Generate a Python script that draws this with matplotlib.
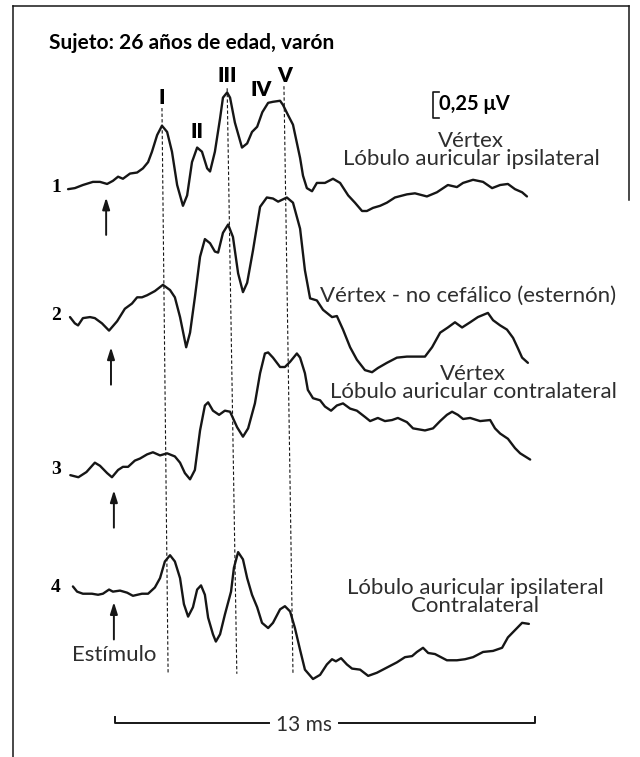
import matplotlib
matplotlib.use("Agg")
import matplotlib.pyplot as plt
from matplotlib.lines import Line2D

W, H = 640, 757
PX_PER_MS = 32.27     # 13 ms scale bar is ~420 px long
PX_PER_UV = 104.0     # 0.25 uV bracket is ~26 px tall
ORIGIN_PX = 115.5     # left end of the 13 ms bar (t = 0)

# waveforms: time (ms) and amplitude (uV, relative to each trace's start level)
trace1_ms = [-1.47, -1.26, -1.01, -0.70, -0.48, -0.26, -0.08, 0.08, 0.23, 0.45, 0.67, 0.85,
             1.01, 1.13, 1.29, 1.44, 1.60, 1.75, 1.91, 2.09, 2.22, 2.37, 2.53, 2.68, 2.84,
             2.93, 3.08, 3.24, 3.33, 3.46, 3.55, 3.70, 3.92, 4.08, 4.23, 4.39, 4.55, 4.73,
             4.88, 5.10, 5.19, 5.35, 5.50, 5.72, 5.81, 5.93, 6.09, 6.24, 6.49, 6.74, 6.96,
             7.21, 7.42, 7.64, 7.79, 7.98, 8.20, 8.41, 8.66, 9.03, 9.28, 9.65, 9.96, 10.30,
             10.58, 10.77, 11.08, 11.39, 11.67, 11.92, 12.16, 12.38, 12.60, 12.75]
trace1_uv = [0.00, 0.01, 0.04, 0.07, 0.07, 0.05, 0.08, 0.12, 0.10, 0.15, 0.16, 0.20,
             0.26, 0.36, 0.52, 0.61, 0.55, 0.36, 0.04, -0.16, -0.06, 0.26, 0.40, 0.36, 0.20,
             0.17, 0.36, 0.68, 0.88, 0.93, 0.88, 0.64, 0.40, 0.44, 0.55, 0.60, 0.74, 0.83,
             0.84, 0.85, 0.81, 0.71, 0.62, 0.30, 0.13, 0.01, -0.02, 0.06, 0.06, 0.10, 0.06,
             -0.06, -0.13, -0.21, -0.21, -0.18, -0.16, -0.13, -0.08, -0.05, -0.04, -0.07, -0.03, 0.04,
             0.02, 0.06, 0.09, 0.07, 0.01, 0.04, 0.05, 0.00, -0.03, -0.07]

trace2_ms = [-1.41, -1.26, -1.16, -1.01, -0.79, -0.64, -0.42, -0.20, 0.05, 0.29, 0.51, 0.67,
             0.82, 0.98, 1.22, 1.47, 1.69, 1.84, 2.00, 2.19, 2.31, 2.46, 2.62, 2.77, 2.93,
             3.08, 3.18, 3.33, 3.49, 3.64, 3.80, 3.95, 4.08, 4.26, 4.48, 4.69, 4.88, 5.04,
             5.31, 5.50, 5.72, 5.87, 6.03, 6.24, 6.43, 6.71, 6.86, 7.05, 7.27, 7.48, 7.73,
             7.95, 8.13, 8.41, 8.72, 9.03, 9.34, 9.59, 9.81, 10.06, 10.30, 10.52, 10.74,
             10.99, 11.23, 11.54, 11.70, 11.92, 12.13, 12.32, 12.47, 12.60, 12.78]
trace2_uv = [0.00, -0.06, -0.08, -0.01, 0.00, -0.01, -0.06, -0.13, -0.04, 0.08, 0.13, 0.19,
             0.19, 0.21, 0.25, 0.31, 0.26, 0.19, 0.00, -0.29, -0.15, 0.19, 0.58, 0.75, 0.71,
             0.63, 0.62, 0.81, 0.89, 0.77, 0.42, 0.24, 0.33, 0.64, 1.06, 1.15, 1.14, 1.11,
             1.15, 1.10, 0.85, 0.45, 0.18, 0.16, 0.07, 0.00, 0.01, -0.12, -0.29, -0.41, -0.51,
             -0.53, -0.49, -0.44, -0.39, -0.38, -0.38, -0.38, -0.29, -0.15, -0.10, -0.05, -0.10,
             -0.05, 0.00, 0.04, -0.03, -0.08, -0.12, -0.20, -0.30, -0.39, -0.44]

trace3_ms = [-1.40, -1.15, -0.90, -0.64, -0.48, -0.26, -0.11, 0.08, 0.23, 0.39, 0.60, 0.76,
             0.98, 1.16, 1.38, 1.60, 1.84, 2.00, 2.15, 2.31, 2.46, 2.62, 2.77, 2.87, 3.02,
             3.21, 3.39, 3.55, 3.77, 3.95, 4.11, 4.32, 4.48, 4.63, 4.73, 4.88, 5.10, 5.25,
             5.41, 5.62, 5.72, 5.87, 5.96, 6.12, 6.34, 6.49, 6.68, 6.86, 7.05, 7.27, 7.48,
             7.73, 7.89, 8.13, 8.35, 8.57, 8.75, 9.03, 9.22, 9.59, 9.84, 10.06, 10.27, 10.43,
             10.61, 10.77, 10.99, 11.30, 11.61, 11.76, 11.92, 12.16, 12.38, 12.54, 12.85]
trace3_uv = [0.00, -0.02, 0.03, 0.12, 0.09, 0.02, -0.02, 0.05, 0.08, 0.08, 0.14, 0.16,
             0.20, 0.22, 0.19, 0.21, 0.18, 0.12, 0.02, -0.04, 0.05, 0.43, 0.67, 0.70, 0.62,
             0.58, 0.62, 0.61, 0.46, 0.37, 0.45, 0.69, 0.98, 1.17, 1.18, 1.13, 1.04, 1.04,
             1.09, 1.17, 1.13, 0.98, 0.82, 0.74, 0.72, 0.66, 0.62, 0.67, 0.69, 0.64, 0.62,
             0.56, 0.52, 0.55, 0.52, 0.53, 0.55, 0.51, 0.45, 0.43, 0.45, 0.52, 0.58, 0.61,
             0.58, 0.54, 0.55, 0.52, 0.53, 0.45, 0.40, 0.35, 0.26, 0.21, 0.15]

trace4_ms = [-1.32, -1.19, -1.01, -0.73, -0.54, -0.39, -0.20, -0.08, 0.14, 0.36, 0.54, 0.82,
             1.01, 1.22, 1.38, 1.53, 1.69, 1.84, 2.00, 2.12, 2.25, 2.40, 2.53, 2.65, 2.77,
             2.87, 3.02, 3.11, 3.24, 3.39, 3.58, 3.67, 3.80, 3.95, 4.08, 4.23, 4.39, 4.54,
             4.73, 4.88, 5.10, 5.25, 5.41, 5.56, 5.72, 5.87, 6.12, 6.34, 6.55, 6.71, 6.83,
             6.99, 7.17, 7.33, 7.58, 7.83, 8.10, 8.41, 8.72, 8.97, 9.19, 9.34, 9.53, 9.69,
             9.90, 10.27, 10.58, 10.83, 11.08, 11.39, 11.70, 11.98, 12.16, 12.38, 12.60, 12.81]
trace4_uv = [0.05, 0.00, -0.02, -0.02, -0.03, -0.02, 0.02, 0.00, 0.01, -0.01, -0.04, -0.02,
             -0.02, 0.04, 0.13, 0.29, 0.35, 0.29, 0.13, -0.12, -0.24, -0.15, 0.02, 0.06, -0.03,
             -0.25, -0.41, -0.48, -0.41, -0.22, 0.00, 0.23, 0.38, 0.31, 0.13, -0.03, -0.15, -0.30,
             -0.35, -0.30, -0.17, -0.14, -0.19, -0.35, -0.56, -0.75, -0.84, -0.80, -0.70, -0.65, -0.67,
             -0.64, -0.70, -0.74, -0.75, -0.81, -0.78, -0.73, -0.68, -0.63, -0.62, -0.58, -0.54, -0.59,
             -0.60, -0.66, -0.66, -0.65, -0.63, -0.58, -0.57, -0.54, -0.44, -0.37, -0.30, -0.31]

traces = [(trace1_ms, trace1_uv), (trace2_ms, trace2_uv),
          (trace3_ms, trace3_uv), (trace4_ms, trace4_uv)]
trace_labels = ["1", "2", "3", "4"]
trace_level_uv = [5.46, 4.23, 2.71, 1.59]      # vertical placement of each trace
stim_ms = [-0.29, -0.14, -0.05, -0.05]          # stimulus arrows
stim_gap_uv = [0.08, 0.29, 0.145, 0.10]         # arrow tip below the trace level
montages = ["V\u00e9rtex\nL\u00f3bulo auricular ipsilateral",
            "V\u00e9rtex - no cef\u00e1lico (estern\u00f3n)",
            "V\u00e9rtex\nL\u00f3bulo auricular contralateral",
            "L\u00f3bulo auricular ipsilateral\nContralateral"]

# dashed latency lines for waves I, III, V (slightly slanted in the original)
wave_lines = ["I", "III", "V"]
wave_top_ms = [1.44, 3.46, 5.22]
wave_bot_ms = [1.63, 3.76, 5.50]
wave_top_uv = [6.24, 6.43, 6.45]
wave_bot_uv = 0.80

scale_ms = 13
scale_uv = 0.25

LINE = "#161616"
TEXT = "#2e2e2e"
REG = "Lato"


def main() -> None:
    fig = plt.figure(figsize=(W / 100, H / 100), dpi=100)
    ax = fig.add_axes([0, 0, 1, 1])
    ax.set_xlim(-ORIGIN_PX / PX_PER_MS, (W - ORIGIN_PX) / PX_PER_MS)
    ax.set_ylim(0, H / PX_PER_UV)
    ax.axis("off")

    def ptxt(xp, yp, s, **kw):
        # place annotation text by figure pixel position
        fig.text(xp / W, 1 - yp / H, s, **kw)

    # frame (open on the lower right, as in the scan)
    for xs, ys in [([13, 13], [6, H]), ([13, 629], [6, 6]), ([629, 629], [6, 200])]:
        fig.add_artist(Line2D([x / W for x in xs], [1 - y / H for y in ys],
                              transform=fig.transFigure, color=LINE, lw=1.1))

    # waveforms
    for (ms, uv), lvl in zip(traces, trace_level_uv):
        ax.plot(ms, [lvl + v for v in uv], color=LINE, lw=1.7,
                solid_joinstyle="round", solid_capstyle="round")

    # latency lines
    for t0, t1, y0 in zip(wave_top_ms, wave_bot_ms, wave_top_uv):
        ax.plot([t0, t1], [y0, wave_bot_uv], color=LINE, lw=0.8, linestyle=(0, (3, 2)))

    # stimulus arrows
    for t, lvl, gap in zip(stim_ms, trace_level_uv, stim_gap_uv):
        ax.annotate("", xy=(t, lvl - gap), xytext=(t, lvl - gap - 0.36),
                    arrowprops=dict(arrowstyle="-|>,head_length=0.7,head_width=0.22",
                                    color=LINE, lw=1.4, shrinkA=0, shrinkB=0))

    # 13 ms time bar with a gap for its label
    bar_y = 0.33
    tick = 0.05
    gap0, gap1 = 4.75, 6.92
    ax.plot([0, 0, gap0], [bar_y + tick, bar_y, bar_y], color=LINE, lw=1.4)
    ax.plot([gap1, scale_ms, scale_ms], [bar_y, bar_y, bar_y + tick], color=LINE, lw=1.4)
    ax.text((gap0 + gap1) / 2, bar_y - 0.02, f"{scale_ms} ms", ha="center", va="center",
            fontsize=15, family=REG, color=TEXT)

    # 0.25 uV bracket
    bx, btop = 9.84, 6.39
    ax.plot([bx + 0.17, bx, bx, bx + 0.17], [btop, btop, btop - scale_uv, btop - scale_uv],
            color=LINE, lw=1.2)
    ax.text(bx + 0.2, btop - scale_uv / 2 + 0.01, "0,25 \u03bcV", ha="left", va="center",
            fontsize=14.5, family=REG, fontweight="bold", color="black")

    # title and wave labels
    ptxt(49, 43, "Sujeto: 26 a\u00f1os de edad, var\u00f3n", ha="left", va="center",
         fontsize=15, family=REG, fontweight="bold", color="black")
    for name, xp, yp in [("I", 162, 98), ("II", 197, 131), ("III", 227, 75),
                         ("IV", 261, 90), ("V", 285, 75)]:
        ptxt(xp, yp, name, ha="center", va="center", fontsize=15, family=REG,
             fontweight="heavy", color="black")

    # trace numbers
    for lab, yp in zip(trace_labels, [188, 316, 470, 587]):
        ptxt(56, yp, lab, ha="center", va="center", fontsize=14,
             family="Liberation Serif", fontweight="bold", color="black")

    # montage descriptions (two-line blocks kept tight, as in the original)
    for s, xp, yp in zip(montages, [471, 468, 473, 475], [150, 296, 383, 597]):
        ptxt(xp, yp, s, ha="center", va="center", multialignment="center",
             linespacing=0.85, fontsize=16, family=REG, color=TEXT)

    ptxt(114, 655, "Est\u00edmulo", ha="center", va="center", fontsize=16,
         family=REG, color=TEXT)

    fig.savefig("out.png", dpi=100)
    plt.close(fig)


if __name__ == "__main__":
    main()
